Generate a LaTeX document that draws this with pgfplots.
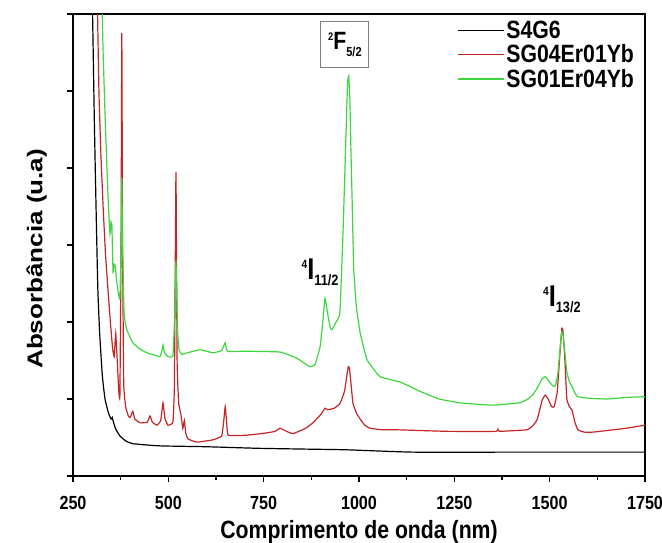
\documentclass[border=0pt]{standalone}
\usepackage{fontspec}
\usepackage{graphicx}
\usepackage{pgfplots}
\pgfplotsset{compat=1.18}
\setmainfont{Liberation Sans}[FakeStretch=0.85]
\newfontfamily\plainsans{Liberation Sans}
\definecolor{erred}{RGB}{196,36,36}
\definecolor{ybgreen}{RGB}{60,215,60}

% S4G6
\pgfplotstableread{
nm a
300 6.4
303 5.5
306 4.6
310 3.6
315 2.45
320 1.85
327 1.3
334 1.0
343 0.82
350 0.74
353 0.76
356 0.70
362 0.61
373 0.52
390 0.45
407 0.42
450 0.40
486 0.39
600 0.38
733 0.36
850 0.35
969 0.34
1142 0.31
1400 0.31
1750 0.31
}\tabSfourGsix

% SG04Er01Yb
\pgfplotstableread{
nm a
313 6.4
318 5.0
323 4.2
329 3.5
335 2.9
342 2.4
348 2.0
354 1.65
358 1.55
362 1.85
366 1.5
370 1.1
373 1.05
376 3.0
378 5.75
380 3.0
383 1.2
388 0.9
395 0.78
400 0.76
407 0.84
412 0.74
426 0.69
445 0.70
452 0.78
458 0.70
470 0.66
480 0.72
486 0.95
491 0.75
499 0.66
512 0.70
516 1.2
520 3.95
523 1.5
527 0.95
533 0.80
538 0.62
542 0.72
546 0.55
552 0.48
575 0.44
617 0.47
640 0.52
646 0.75
649 0.90
653 0.70
657 0.53
706 0.53
758 0.56
780 0.58
793 0.62
810 0.58
827 0.55
860 0.62
879 0.69
900 0.80
911 0.88
918 0.86
935 0.88
950 0.94
962 1.10
968 1.30
972 1.42
975 1.40
979 1.20
984 0.95
993 0.82
1003 0.74
1015 0.66
1029 0.62
1060 0.60
1100 0.60
1231 0.58
1360 0.58
1364 0.62
1368 0.58
1440 0.60
1455 0.65
1467 0.73
1480 0.98
1488 1.05
1496 1.00
1505 0.90
1512 0.90
1520 1.10
1527 1.60
1532 1.92
1535 1.88
1540 1.50
1545 1.00
1552 0.90
1559 0.85
1566 0.70
1574 0.60
1590 0.57
1614 0.57
1700 0.62
1750 0.66
}\tabSGzfourEr

% SG01Er04Yb
\pgfplotstableread{
nm a
325 6.4
329 5.5
334 4.7
339 4.0
343 3.5
347 3.15
350 3.3
352 3.25
355 2.65
358 2.75
361 2.72
364 2.55
368 2.4
373 2.3
376 3.0
378 3.87
380 3.0
384 2.1
391 1.9
400 1.8
407 1.73
425 1.65
444 1.60
478 1.55
483 1.62
486 1.70
490 1.60
499 1.55
512 1.56
516 2.0
520 2.8
524 1.9
528 1.64
535 1.58
550 1.60
583 1.64
617 1.60
640 1.63
649 1.73
655 1.62
706 1.62
793 1.61
837 1.53
871 1.42
885 1.45
898 1.68
905 2.0
911 2.31
918 2.1
925 1.92
929 1.90
940 2.0
950 2.12
958 3.15
966 4.45
970 5.10
973 5.2
976 4.9
979 4.2
982 3.58
986 2.71
993 2.2
1003 1.86
1021 1.51
1055 1.29
1108 1.22
1160 1.10
1210 1.00
1265 0.95
1350 0.92
1420 0.95
1440 0.99
1455 1.05
1467 1.14
1480 1.26
1488 1.29
1497 1.24
1508 1.17
1515 1.17
1522 1.35
1528 1.70
1532 1.87
1535 1.84
1540 1.60
1545 1.35
1552 1.22
1559 1.16
1567 1.07
1574 1.03
1600 1.01
1650 1.00
1700 1.02
1750 1.03
}\tabSGzoneEr

\begin{document}
\begin{tikzpicture}
\useasboundingbox (-73bp,-67bp) rectangle (589bp,476bp);
\begin{axis}[
  scale only axis,
  width=572bp, height=462bp,
  xmin=250, xmax=1750, ymin=0, ymax=6,
  xtick={250,500,...,1750},
  minor x tick num=1,
  ytick={0,1,...,6},
  yticklabels={},
  tick pos=left,
  tick align=outside,
  major tick length=6bp,
  minor tick length=4bp,
  tick style={black, line width=1.1bp},
  axis line style={line width=1.2bp},
  /pgf/number format/assume math mode=true,
  /pgf/number format/1000 sep={},
  xticklabel style={font=\fontsize{19bp}{19bp}\selectfont\bfseries, yshift=-11bp},
  xlabel={Comprimento de onda (nm)},
  xlabel style={font=\fontsize{25bp}{25bp}\selectfont\bfseries,
    at={(axis description cs:0.5,0)}, anchor=center, yshift=-56bp},
  ylabel={\scalebox{1}[0.82]{\plainsans\bfseries\fontsize{26bp}{26bp}\selectfont Absorbância (u.a)}},
  ylabel style={at={(axis description cs:-0.0638,0.47)}, anchor=center},
  legend style={draw=none, fill=none, inner sep=0pt,
    at={(rel axis cs:0.671,0.99)}, anchor=north west,
    font=\fontsize{25bp}{25bp}\selectfont\bfseries,
    row sep=1bp},
  legend cell align=left,
  legend image code/.code={\draw[#1, line width=1.4bp] (0bp,0bp) -- (46bp,0bp);},
  clip=true,
]
\addplot[black, line width=1.2bp, smooth, tension=0.3] table[x=nm, y=a] {\tabSfourGsix};
\addlegendentry{S4G6}
\addplot[erred, line width=1.2bp, smooth, tension=0.2] table[x=nm, y=a] {\tabSGzfourEr};
\addlegendentry{SG04Er01Yb}
\addplot[ybgreen, line width=1.2bp, smooth, tension=0.2] table[x=nm, y=a] {\tabSGzoneEr};
\addlegendentry{SG01Er04Yb}

% transition labels
\node[draw=gray, line width=0.8bp, minimum width=48bp, minimum height=46bp, inner sep=2bp, fill=white]
  at (axis cs:963,5.6)
  {\bfseries\raisebox{9bp}{\fontsize{11bp}{11bp}\selectfont 2}\fontsize{25bp}{25bp}\selectfont F\raisebox{-7bp}{\fontsize{13bp}{13bp}\selectfont 5/2}};
\node at (axis cs:898,2.65)
  {\bfseries\raisebox{11bp}{\fontsize{12bp}{12bp}\selectfont 4}\fontsize{30bp}{30bp}\selectfont I\raisebox{-6bp}{\fontsize{15bp}{15bp}\selectfont 11/2}};
\node at (axis cs:1532,2.29)
  {\bfseries\raisebox{11bp}{\fontsize{12bp}{12bp}\selectfont 4}\fontsize{30bp}{30bp}\selectfont I\raisebox{-6bp}{\fontsize{15bp}{15bp}\selectfont 13/2}};
\end{axis}
\end{tikzpicture}
\end{document}
